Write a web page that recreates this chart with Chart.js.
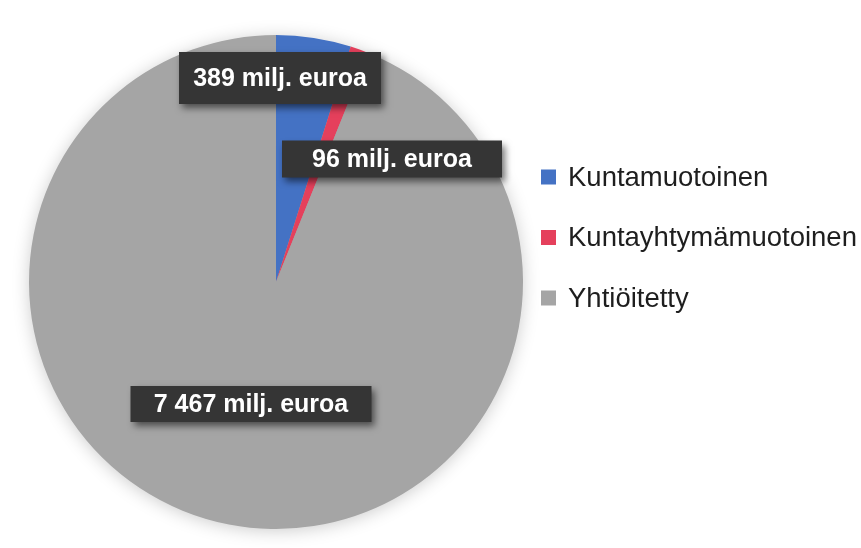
<!DOCTYPE html>
<html>
<head>
<meta charset="utf-8">
<script src="https://cdn.jsdelivr.net/npm/chart.js@4.4.0/dist/chart.umd.min.js"></script>
<style>
  html, body { margin: 0; padding: 0; background: #ffffff; }
  #wrap { width: 861px; height: 548px; position: relative; }
</style>
</head>
<body>
<div id="wrap"><canvas id="c" width="861" height="548"></canvas></div>
<script>
const categories = ['Kuntamuotoinen', 'Kuntayhtymämuotoinen', 'Yhtiöitetty'];
const values = [389, 96, 7467];
const valueLabels = ['389 milj. euroa', '96 milj. euroa', '7 467 milj. euroa'];
const colors = ['#4472c4', '#e5405c', '#a5a5a5'];

// label box placement (layout only)
const labelBoxes = [
  { cx: 280, cy: 78, w: 202, h: 52 },
  { cx: 392, cy: 159, w: 220, h: 37 },
  { cx: 251, cy: 404, w: 241, h: 36 }
];

const shadowPlugin = {
  id: 'pieShadow',
  beforeDatasetsDraw(chart) {
    const arc = chart.getDatasetMeta(0).data[0];
    if (!arc) return;
    const ctx = chart.ctx;
    ctx.save();
    ctx.shadowColor = 'rgba(0,0,0,0.22)';
    ctx.shadowBlur = 18;
    ctx.shadowOffsetX = 0;
    ctx.shadowOffsetY = 2;
    ctx.fillStyle = '#a5a5a5';
    ctx.beginPath();
    ctx.arc(arc.x, arc.y, arc.outerRadius - 1, 0, Math.PI * 2);
    ctx.fill();
    ctx.restore();
  }
};

const labelPlugin = {
  id: 'valueLabels',
  afterDatasetsDraw(chart) {
    const ctx = chart.ctx;
    ctx.save();
    labelBoxes.forEach((b, i) => {
      ctx.save();
      ctx.shadowColor = 'rgba(0,0,0,0.55)';
      ctx.shadowBlur = 7;
      ctx.shadowOffsetX = 3;
      ctx.shadowOffsetY = 4;
      ctx.fillStyle = '#353535';
      ctx.fillRect(b.cx - b.w / 2, b.cy - b.h / 2, b.w, b.h);
      ctx.restore();
      ctx.fillStyle = '#ffffff';
      ctx.font = 'bold 25px "Liberation Sans", Arial, sans-serif';
      ctx.textAlign = 'center';
      ctx.textBaseline = 'middle';
      ctx.fillText(valueLabels[i], b.cx, b.cy + 1);
    });
    ctx.restore();
  }
};

const legendPlugin = {
  id: 'sideLegend',
  afterDraw(chart) {
    const ctx = chart.ctx;
    const x0 = 541, y0 = 177, step = 60.5, box = 15;
    ctx.save();
    chart.data.labels.forEach((lab, i) => {
      const y = y0 + i * step;
      ctx.fillStyle = chart.data.datasets[0].backgroundColor[i];
      ctx.fillRect(x0, y - box / 2, box, box);
      ctx.fillStyle = '#1e1e1e';
      ctx.font = '27.5px "Liberation Sans", Arial, sans-serif';
      ctx.textAlign = 'left';
      ctx.textBaseline = 'middle';
      ctx.fillText(lab, 568, y + 1);
    });
    ctx.restore();
  }
};

new Chart(document.getElementById('c'), {
  type: 'pie',
  data: {
    labels: categories,
    datasets: [{
      data: values,
      backgroundColor: colors,
      borderWidth: 0
    }]
  },
  options: {
    responsive: false,
    animation: false,
    layout: { padding: { left: 29, top: 35, right: 338, bottom: 19 } },
    plugins: {
      legend: { display: false },
      tooltip: { enabled: false }
    }
  },
  plugins: [shadowPlugin, labelPlugin, legendPlugin]
});
</script>
</body>
</html>
